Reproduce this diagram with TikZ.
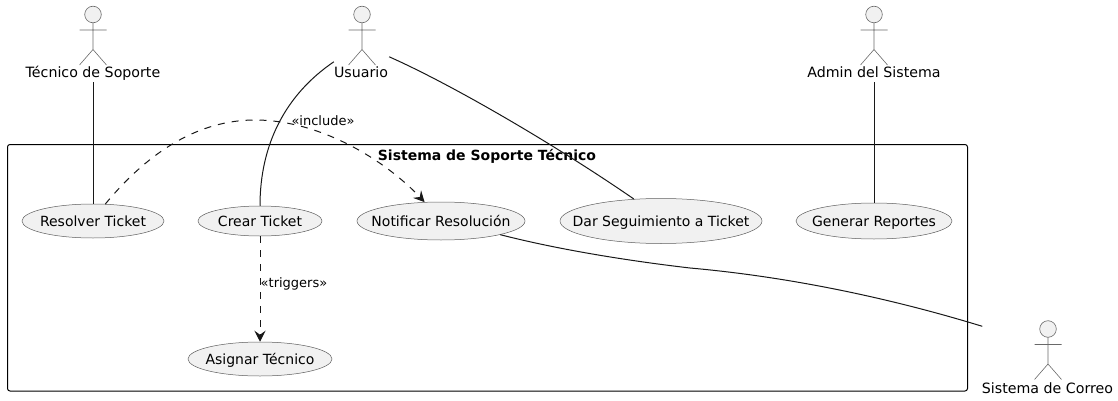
\documentclass[tikz,border=0pt]{standalone}
\usepackage{fontspec}
\setmainfont{DejaVu Sans}
\usetikzlibrary{shapes.geometric,arrows.meta}
\definecolor{ufill}{HTML}{F1F1F1}
\definecolor{uline}{HTML}{181818}
\newcommand{\uctext}[1]{\makebox[0pt][c]{\raisebox{-5.3pt}[0pt][0pt]{#1}}}
\tikzset{
  usecase/.style={ellipse,draw=uline!70,line width=.5pt,fill=ufill,inner sep=0pt,font=\fontsize{14}{16}\selectfont},
  actorlabel/.style={inner sep=1pt,text height=11pt,text depth=3pt,font=\fontsize{14.2}{16}\selectfont},
  edgelabel/.style={inner sep=0pt,text height=10pt,text depth=2pt,font=\fontsize{13}{15}\selectfont},
  assoc/.style={uline,line width=1pt},
  depend/.style={uline,line width=1pt,dash pattern=on 7pt off 7pt,-{Stealth[length=11pt,width=11pt,inset=4pt]}},
  frame/.style={draw=black,line width=1pt,rounded corners=2.5pt},
  actorhead/.style={draw=uline!65,line width=.6pt,fill=ufill},
  actorline/.style={draw=uline!65,line width=.6pt}
}
\newcommand{\stickman}[2]{%
  \draw[actorhead] (#1,#2) circle (8.3pt);
  \draw[actorline] (#1,#2+8.3) -- (#1,#2+35)
    (#1-13.5,#2+15.5) -- (#1+13.5,#2+15.5)
    (#1-13.5,#2+50.5) -- (#1,#2+35) -- (#1+13.5,#2+50.5);
}
\begin{document}
\begin{tikzpicture}[x=1pt,y=-1pt]
\useasboundingbox (0,0) rectangle (1118,401);
\draw[frame] (7.5,144.5) rectangle (967.5,391);
\node[inner sep=0pt,font=\fontsize{14}{16}\selectfont\bfseries] (title) at (487,156) {Sistema de Soporte Técnico};

\stickman{93}{14.5}
\stickman{362}{14.5}
\stickman{874}{14.5}
\stickman{1048}{329}
\node[actorlabel] (tecnico) at (93,74) {Técnico de Soporte};
\node[actorlabel] (usuario) at (361,74) {Usuario};
\node[actorlabel] (admin) at (874,74) {Admin del Sistema};
\node[actorlabel] (correo) at (1047.5,389.5) {Sistema de Correo};

\node[usecase,minimum width=142pt,minimum height=34pt] (resolver) at (93,221) {\uctext{Resolver Ticket}};
\node[usecase,minimum width=124pt,minimum height=30pt] (crear) at (260,221) {\uctext{Crear Ticket}};
\node[usecase,minimum width=168pt,minimum height=38pt] (notificar) at (441,221) {\uctext{Notificar Resolución}};
\node[usecase,minimum width=202pt,minimum height=45pt] (dar) at (661,221) {\uctext{Dar Seguimiento a Ticket}};
\node[usecase,minimum width=156pt,minimum height=36pt] (generar) at (874,221) {\uctext{Generar Reportes}};
\node[usecase,minimum width=144pt,minimum height=34pt] (asignar) at (260,359) {\uctext{Asignar Técnico}};

\draw[assoc] (tecnico.south) -- (tecnico.south |- resolver.north);
\draw[assoc] ([shift={(1,-4)}]usuario.north west) .. controls (285,95) and (260,145) .. (crear.north);
\draw[assoc] ([shift={(0,-9)}]usuario.north east) .. controls (455,86) and (560,148) .. (dar.141);
\draw[assoc] (admin.south) -- (generar.north);
\draw[assoc] (notificar.347.3) .. controls (560,250) and (630,261) .. (690,268)
   .. controls (780,276) and (880,295) .. ([shift={(1.5,-55)}]correo.north west);
\draw[depend] (resolver.54) .. controls (150,150) and (200,120) .. (255,120)
   .. controls (320,120) and (385,160) .. (notificar.131.6);
\draw[depend] (crear.south) -- (asignar.north);
\node[edgelabel] (lblinclude) at (323,121) {«include»};
\node[edgelabel] (lbltriggers) at (294,283) {«triggers»};
\end{tikzpicture}
\end{document}
